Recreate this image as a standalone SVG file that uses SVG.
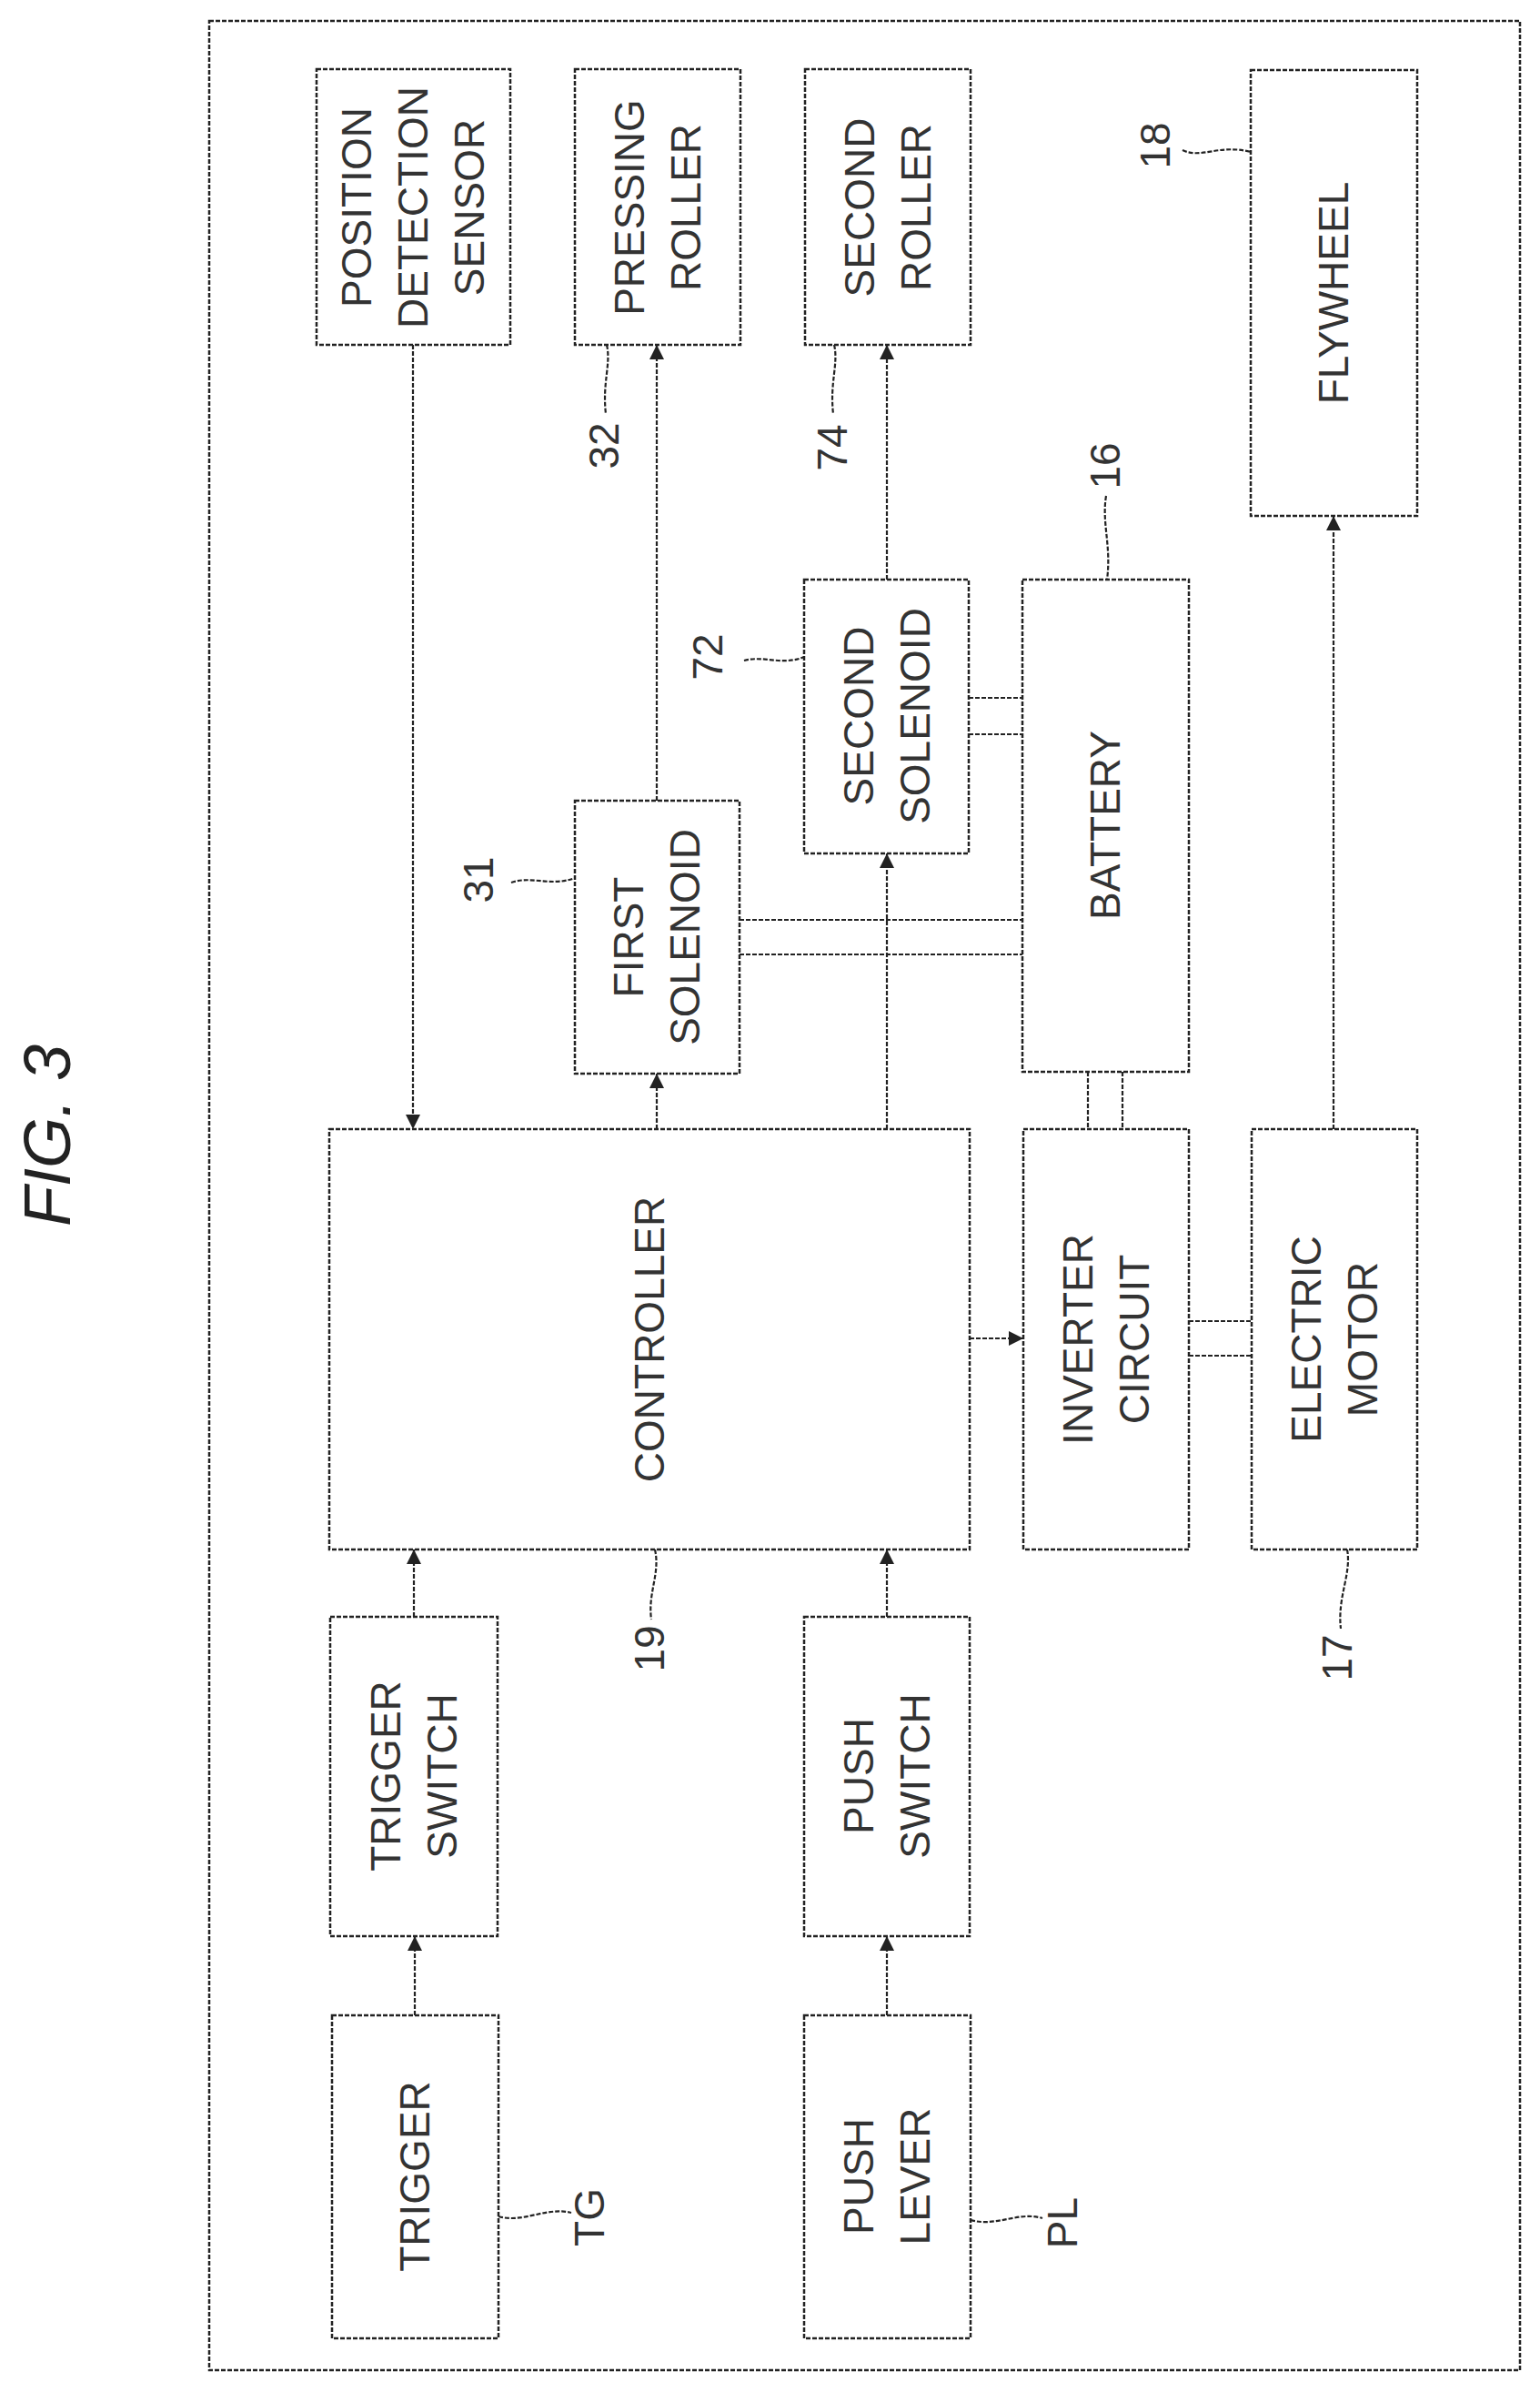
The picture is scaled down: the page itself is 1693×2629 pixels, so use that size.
<svg xmlns="http://www.w3.org/2000/svg" width="1693" height="2629" viewBox="0 0 1693 2629">
<defs>
<marker id="ah" viewBox="0 0 10 10" refX="10" refY="5" markerWidth="16" markerHeight="16" markerUnits="userSpaceOnUse" orient="auto">
<path d="M0,0 L10,5 L0,10 z" fill="#222"/>
</marker>
<style>
.box{fill:none;stroke:#222;stroke-width:2.5;stroke-dasharray:5 2}
.ln{fill:none;stroke:#222;stroke-width:2.2;stroke-dasharray:5 2}
.ar{fill:none;stroke:#222;stroke-width:2.2;stroke-dasharray:5 2;marker-end:url(#ah)}
.t{font-family:"Liberation Sans",Arial,sans-serif;font-size:46px;fill:#333;text-anchor:middle;dominant-baseline:central}
.n{font-family:"Liberation Sans",Arial,sans-serif;font-size:46px;fill:#333;text-anchor:middle;dominant-baseline:central}
</style>
</defs>
<rect width="1693" height="2629" fill="#fff"/>
<rect class="box" x="230" y="23" width="1441" height="2582"/>
<text transform="translate(52,1248) rotate(-90)" style="font-family:'Liberation Sans',Arial,sans-serif;font-size:72px;font-style:italic;fill:#222;text-anchor:middle;dominant-baseline:central">FIG. 3</text>

<g id="pos-sensor"><rect class="box" x="348" y="76" width="213" height="303"/>
<text class="t" transform="translate(454,228) rotate(-90)"><tspan x="0" y="-62">POSITION</tspan><tspan x="0" y="0">DETECTION</tspan><tspan x="0" y="62">SENSOR</tspan></text></g>
<g id="pressing-roller"><rect class="box" x="632" y="76" width="182" height="303"/>
<text class="t" transform="translate(723,228) rotate(-90)"><tspan x="0" y="-31">PRESSING</tspan><tspan x="0" y="31">ROLLER</tspan></text></g>
<g id="second-roller"><rect class="box" x="885" y="76" width="182" height="303"/>
<text class="t" transform="translate(976,228) rotate(-90)"><tspan x="0" y="-31">SECOND</tspan><tspan x="0" y="31">ROLLER</tspan></text></g>
<g id="flywheel"><rect class="box" x="1375" y="77" width="183" height="490"/>
<text class="t" transform="translate(1466,322) rotate(-90)">FLYWHEEL</text></g>
<g id="second-solenoid"><rect class="box" x="884" y="637" width="181" height="301"/>
<text class="t" transform="translate(975,787) rotate(-90)"><tspan x="0" y="-31">SECOND</tspan><tspan x="0" y="31">SOLENOID</tspan></text></g>
<g id="battery"><rect class="box" x="1124" y="637" width="183" height="541"/>
<text class="t" transform="translate(1215,907) rotate(-90)">BATTERY</text></g>
<g id="first-solenoid"><rect class="box" x="632" y="880" width="181" height="300"/>
<text class="t" transform="translate(722,1030) rotate(-90)"><tspan x="0" y="-31">FIRST</tspan><tspan x="0" y="31">SOLENOID</tspan></text></g>
<g id="controller"><rect class="box" x="362" y="1241" width="704" height="462"/>
<text class="t" transform="translate(714,1472) rotate(-90)">CONTROLLER</text></g>
<g id="inverter"><rect class="box" x="1125" y="1241" width="182" height="462"/>
<text class="t" transform="translate(1216,1472) rotate(-90)"><tspan x="0" y="-31">INVERTER</tspan><tspan x="0" y="31">CIRCUIT</tspan></text></g>
<g id="motor"><rect class="box" x="1376" y="1241" width="182" height="462"/>
<text class="t" transform="translate(1467,1472) rotate(-90)"><tspan x="0" y="-31">ELECTRIC</tspan><tspan x="0" y="31">MOTOR</tspan></text></g>
<g id="trigger-switch"><rect class="box" x="363" y="1777" width="184" height="351"/>
<text class="t" transform="translate(455,1952) rotate(-90)"><tspan x="0" y="-31">TRIGGER</tspan><tspan x="0" y="31">SWITCH</tspan></text></g>
<g id="push-switch"><rect class="box" x="884" y="1777" width="182" height="351"/>
<text class="t" transform="translate(975,1952) rotate(-90)"><tspan x="0" y="-31">PUSH</tspan><tspan x="0" y="31">SWITCH</tspan></text></g>
<g id="trigger"><rect class="box" x="365" y="2215" width="183" height="355"/>
<text class="t" transform="translate(456,2392) rotate(-90)">TRIGGER</text></g>
<g id="push-lever"><rect class="box" x="884" y="2215" width="183" height="355"/>
<text class="t" transform="translate(975,2392) rotate(-90)"><tspan x="0" y="-31">PUSH</tspan><tspan x="0" y="31">LEVER</tspan></text></g>

<g id="connectors">
<line class="ar" x1="454" y1="379" x2="454" y2="1241"/>
<line class="ar" x1="722" y1="1241" x2="722" y2="1180"/>
<line class="ar" x1="722" y1="880" x2="722" y2="379"/>
<line class="ar" x1="975" y1="1241" x2="975" y2="938"/>
<line class="ar" x1="975" y1="637" x2="975" y2="379"/>
<line class="ln" x1="813" y1="1011" x2="1124" y2="1011"/>
<line class="ln" x1="813" y1="1049" x2="1124" y2="1049"/>
<line class="ln" x1="1065" y1="767" x2="1124" y2="767"/>
<line class="ln" x1="1065" y1="807" x2="1124" y2="807"/>
<line class="ln" x1="1196" y1="1178" x2="1196" y2="1241"/>
<line class="ln" x1="1234" y1="1178" x2="1234" y2="1241"/>
<line class="ar" x1="1066" y1="1471" x2="1125" y2="1471"/>
<line class="ln" x1="1307" y1="1452" x2="1376" y2="1452"/>
<line class="ln" x1="1307" y1="1490" x2="1376" y2="1490"/>
<line class="ar" x1="1466" y1="1241" x2="1466" y2="567"/>
<line class="ar" x1="455" y1="1777" x2="455" y2="1703"/>
<line class="ar" x1="975" y1="1777" x2="975" y2="1703"/>
<line class="ar" x1="456" y1="2215" x2="456" y2="2128"/>
<line class="ar" x1="975" y1="2215" x2="975" y2="2128"/>
</g>

<g id="labels">
<path class="ln" d="M667,379 C672,400 662,420 666,455"/>
<text class="n" transform="translate(664,490) rotate(-90)">32</text>
<path class="ln" d="M917,379 C922,400 912,420 916,455"/>
<text class="n" transform="translate(915,492) rotate(-90)">74</text>
<path class="ln" d="M1216,545 C1211,575 1222,600 1217,637"/>
<text class="n" transform="translate(1215,512) rotate(-90)">16</text>
<path class="ln" d="M1300,165 C1320,175 1340,158 1375,167"/>
<text class="n" transform="translate(1270,160) rotate(-90)">18</text>
<path class="ln" d="M818,726 C840,720 860,732 884,722"/>
<text class="n" transform="translate(778,722) rotate(-90)">72</text>
<path class="ln" d="M562,970 C585,962 605,975 632,965"/>
<text class="n" transform="translate(526,967) rotate(-90)">31</text>
<path class="ln" d="M720,1703 C726,1730 712,1750 716,1780"/>
<text class="n" transform="translate(714,1812) rotate(-90)">19</text>
<path class="ln" d="M1481,1703 C1486,1730 1470,1755 1474,1790"/>
<text class="n" transform="translate(1470,1822) rotate(-90)">17</text>
<path class="ln" d="M548,2436 C575,2444 600,2425 628,2432"/>
<text class="n" transform="translate(648,2437) rotate(-90)">TG</text>
<path class="ln" d="M1067,2440 C1095,2448 1120,2430 1146,2438"/>
<text class="n" transform="translate(1168,2443) rotate(-90)">PL</text>
</g>
</svg>
